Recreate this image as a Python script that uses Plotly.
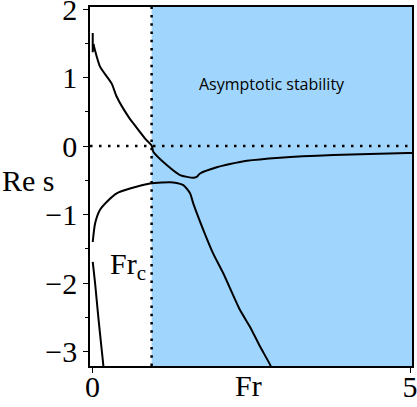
import plotly.graph_objects as go

# Branch 1 (upper): short vertical spike at the left end, then the smooth branch
fr_spike = [0.003, 0.003, 0.013]
re_spike = [1.65, 1.37, 1.49]
fr_a = [0.013, 0.118, 0.30, 0.381, 0.564, 0.643, 0.827, 0.932, 0.957,
        1.168, 1.378, 1.587, 1.64, 1.693, 1.956, 2.165, 2.43, 2.95, 3.79, 4.97, 5.03]
re_a = [1.49, 1.16, 0.915, 0.72, 0.43, 0.33, 0.11, 0.004, -0.083,
        -0.277, -0.423, -0.463, -0.45, -0.40, -0.31, -0.263, -0.215, -0.17, -0.13, -0.10, -0.10]

# Branch 2 (middle)
fr_b = [0.003, 0.04, 0.118, 0.25, 0.381, 0.59, 0.905, 1.27, 1.43, 1.535, 1.587,
        1.745, 1.90, 2.06, 2.32, 2.48, 2.64, 2.80, 2.82]
re_b = [-1.40, -1.13, -0.93, -0.79, -0.69, -0.62, -0.545, -0.53, -0.57, -0.69, -0.84,
        -1.226, -1.57, -1.86, -2.39, -2.64, -2.93, -3.20, -3.26]

# Branch 3 (lower left)
fr_c = [0.003, 0.04, 0.09, 0.145, 0.17, 0.175]
re_c = [-1.69, -2.0, -2.49, -2.98, -3.2, -3.26]

fr_crit = 0.93
y_ticks = [-3, -2, -1, 0, 1, 2]
y_minor = [-2.5, -1.5, -0.5, 0.5, 1.5]
x_ticks = [0, 5]

SERIF = "Liberation Serif, Times New Roman, serif"
blue = "#a0d6fd"

fig = go.Figure()
fig.add_trace(go.Scatter(x=fr_spike, y=re_spike, mode="lines",
                         line=dict(color="black", width=2),
                         showlegend=False, hoverinfo="skip"))
for xs, ys in [(fr_a, re_a), (fr_b, re_b), (fr_c, re_c)]:
    fig.add_trace(go.Scatter(x=xs, y=ys, mode="lines",
                             line=dict(color="black", width=2, shape="spline", smoothing=0.6),
                             showlegend=False, hoverinfo="skip"))

fig.add_shape(type="rect", xref="x", yref="paper", x0=fr_crit, x1=5.03, y0=0, y1=1,
              fillcolor=blue, line=dict(width=0), layer="below")
fig.add_shape(type="line", xref="x", yref="paper", x0=fr_crit, x1=fr_crit, y0=0, y1=1,
              line=dict(color="black", width=2.5, dash="2.5px,5.8px"))
fig.add_shape(type="line", xref="paper", yref="y", x0=0, x1=1, y0=0, y1=0,
              line=dict(color="black", width=2.5, dash="2.5px,6.5px"))

fig.add_annotation(x=2.83, y=0.905, text="Asymptotic stability", showarrow=False,
                   font=dict(family="Open Sans, sans-serif", size=16, color="black"))
fig.add_annotation(x=0.87, y=-1.75, text="Fr<sub>c</sub>", showarrow=False,
                   xanchor="right", font=dict(family=SERIF, size=30, color="black"))
fig.add_annotation(xref="paper", x=-90/322, y=-0.5, text="Re s", showarrow=False,
                   xanchor="left", font=dict(family=SERIF, size=30, color="black"))
fig.add_annotation(x=2.45, xref="x", yref="paper", y=-0.004, yanchor="top",
                   text="Fr", showarrow=False,
                   font=dict(family=SERIF, size=30, color="black"))

fig.update_layout(
    width=417, height=407,
    margin=dict(l=90, r=5, t=7, b=41, pad=0, autoexpand=False),
    plot_bgcolor="white", paper_bgcolor="white",
    showlegend=False,
)
fig.update_xaxes(range=[-0.04, 5.03], tickvals=x_ticks, ticks="outside", ticklen=5,
                 tickcolor="black", showgrid=False, zeroline=False, automargin=False,
                 ticklabeloverflow="allow", ticklabelstandoff=-12,
                 showline=True, linecolor="black", linewidth=1.5, mirror=True,
                 tickfont=dict(family=SERIF, size=30, color="black"))
fig.update_yaxes(range=[-3.21, 2.03], tickvals=y_ticks, ticks="outside", ticklen=5,
                 tickcolor="black", showgrid=False, zeroline=False, automargin=False,
                 ticklabeloverflow="allow",
                 showline=True, linecolor="black", linewidth=1.5, mirror=True,
                 minor=dict(tickvals=y_minor, ticks="outside",
                            ticklen=3, tickcolor="black"),
                 tickfont=dict(family=SERIF, size=30, color="black"))

fig.write_html("out.html", config={"displayModeBar": False},
               post_script="document.body.style.margin='0';document.body.style.overflow='hidden';")
